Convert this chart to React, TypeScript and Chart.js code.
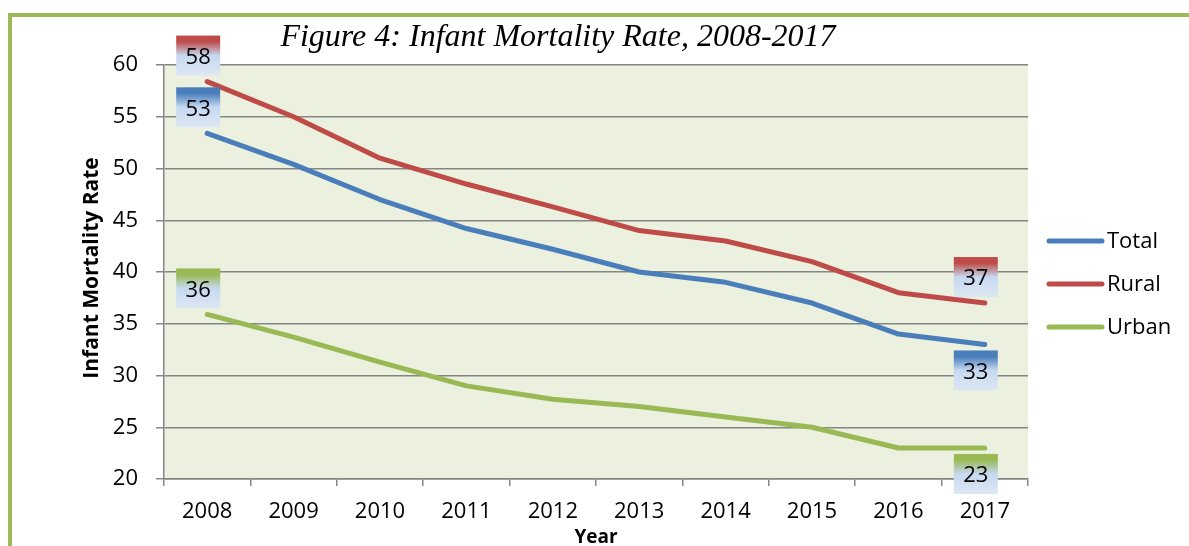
import React, { useEffect, useRef } from "react";
import { Chart, registerables } from "chart.js";

Chart.register(...registerables);

const years = ["2008", "2009", "2010", "2011", "2012", "2013", "2014", "2015", "2016", "2017"];
const totalRate = [53.4, 50.4, 47.0, 44.2, 42.2, 40.0, 39.0, 37.0, 34.0, 33.0];
const ruralRate = [58.4, 55.0, 51.0, 48.5, 46.3, 44.0, 43.0, 41.0, 38.0, 37.0];
const urbanRate = [35.9, 33.7, 31.3, 29.0, 27.7, 27.0, 26.0, 25.0, 23.0, 23.0];
const seriesNames = ["Total", "Rural", "Urban"];
const seriesColors = ["#4A7EBB", "#BE4B48", "#98B954"];
// which end labels are shown above / below the point
const firstLabelSide = ["above", "above", "above"];
const lastLabelSide = ["below", "above", "below"];
const chartTitle = "Figure 4: Infant Mortality Rate, 2008-2017";
const yTitle = "Infant Mortality Rate";
const xTitle = "Year";

const FONT = "'Open Sans', 'DejaVu Sans', sans-serif";

const bgPlugin = {
  id: "plotBg",
  beforeDraw(chart: any) {
    const { ctx, chartArea } = chart;
    ctx.save();
    ctx.fillStyle = "#EBF1DE";
    ctx.fillRect(chartArea.left, chartArea.top, chartArea.right - chartArea.left, chartArea.bottom - chartArea.top);
    ctx.restore();
  },
};

const decorPlugin = {
  id: "decor",
  afterDraw(chart: any) {
    const { ctx, chartArea } = chart;
    ctx.save();
    // Title
    ctx.fillStyle = "#000";
    ctx.font = "italic 32px 'Liberation Serif', 'Times New Roman', serif";
    ctx.textAlign = "center";
    ctx.textBaseline = "middle";
    ctx.fillText(chartTitle, 546, 21);
    // Y title
    ctx.save();
    ctx.translate(80, (chartArea.top + chartArea.bottom) / 2 - 4);
    ctx.rotate(-Math.PI / 2);
    ctx.font = "bold 21px " + FONT;
    ctx.fillText(yTitle, 0, 0);
    ctx.restore();
    // X title
    ctx.font = "bold 19px " + FONT;
    ctx.fillText(xTitle, (chartArea.left + chartArea.right) / 2, 521);
    // Legend
    chart.data.datasets.forEach((ds: any, i: number) => {
      const y = 224 + 43 * i;
      ctx.strokeStyle = ds.borderColor;
      ctx.lineWidth = 5;
      ctx.lineCap = "round";
      ctx.beginPath();
      ctx.moveTo(1037, y);
      ctx.lineTo(1090, y);
      ctx.stroke();
      ctx.fillStyle = "#000";
      ctx.font = "22px " + FONT;
      ctx.textAlign = "left";
      ctx.fillText(ds.label, 1095, y + 1);
    });
    // Data labels
    chart.data.datasets.forEach((ds: any, i: number) => {
      const meta = chart.getDatasetMeta(i);
      const ends = [
        { idx: 0, side: firstLabelSide[i] },
        { idx: ds.data.length - 1, side: lastLabelSide[i] },
      ];
      ends.forEach(({ idx, side }) => {
        const pt = meta.data[idx];
        const w = 44;
        const h = 40;
        const cx = pt.x - 9;
        const top = side === "above" ? pt.y - 6 - h : pt.y + 6;
        const g = ctx.createLinearGradient(0, top, 0, top + h);
        g.addColorStop(0, ds.borderColor);
        g.addColorStop(0.15, ds.borderColor);
        g.addColorStop(0.5, "#C6D9F1");
        g.addColorStop(1, "#DDE7F3");
        ctx.fillStyle = g;
        ctx.fillRect(cx - w / 2, top, w, h);
        ctx.fillStyle = "#000";
        ctx.font = "22px " + FONT;
        ctx.textAlign = "center";
        ctx.textBaseline = "middle";
        ctx.fillText(String(Math.round(ds.data[idx])), cx, top + h / 2 + 2);
      });
    });
    ctx.restore();
  },
};

export default function App() {
  const ref = useRef<HTMLCanvasElement | null>(null);
  useEffect(() => {
    if (!ref.current) return;
    const data = [totalRate, ruralRate, urbanRate];
    const chart = new Chart(ref.current, {
      type: "line",
      data: {
        labels: years,
        datasets: data.map((d, i) => ({
          label: seriesNames[i],
          data: d,
          borderColor: seriesColors[i],
          backgroundColor: seriesColors[i],
          borderWidth: 5,
          borderCapStyle: "round",
          borderJoinStyle: "round",
          pointRadius: 0,
          tension: 0,
        })),
      },
      options: {
        animation: false,
        responsive: false,
        maintainAspectRatio: false,
        layout: { padding: { top: 48, right: 161, left: 0, bottom: 0 } },
        plugins: {
          legend: { display: false },
          title: { display: false },
          tooltip: { enabled: false },
        },
        scales: {
          x: {
            offset: true,
            grid: {
              offset: true,
              drawOnChartArea: false,
              drawTicks: true,
              tickLength: 7,
              color: "#868686",
              lineWidth: 1.5,
            },
            border: { color: "#868686", width: 1.5 },
            ticks: { color: "#000", font: { family: FONT, size: 22 }, padding: 13, maxRotation: 0 },
            afterFit(scale: any) {
              scale.height = 67;
            },
          },
          y: {
            min: 20,
            max: 60,
            ticks: { stepSize: 5, color: "#000", font: { family: FONT, size: 22 }, padding: 18 },
            grid: { color: "#868686", lineWidth: 1.5, tickLength: 8 },
            border: { color: "#868686", width: 1.5 },
            afterFit(scale: any) {
              scale.width = 152;
            },
          },
        },
      },
      plugins: [bgPlugin, decorPlugin],
    } as any);
    return () => chart.destroy();
  }, []);

  return (
    <div
      style={{
        position: "absolute",
        left: 8,
        top: 13,
        width: 1181,
        height: 533,
        boxSizing: "border-box",
        borderTop: "4px solid #9BBB59",
        borderLeft: "4px solid #9BBB59",
        background: "#fff",
      }}
    >
      <canvas ref={ref} width={1177} height={529} style={{ display: "block" }} />
    </div>
  );
}
